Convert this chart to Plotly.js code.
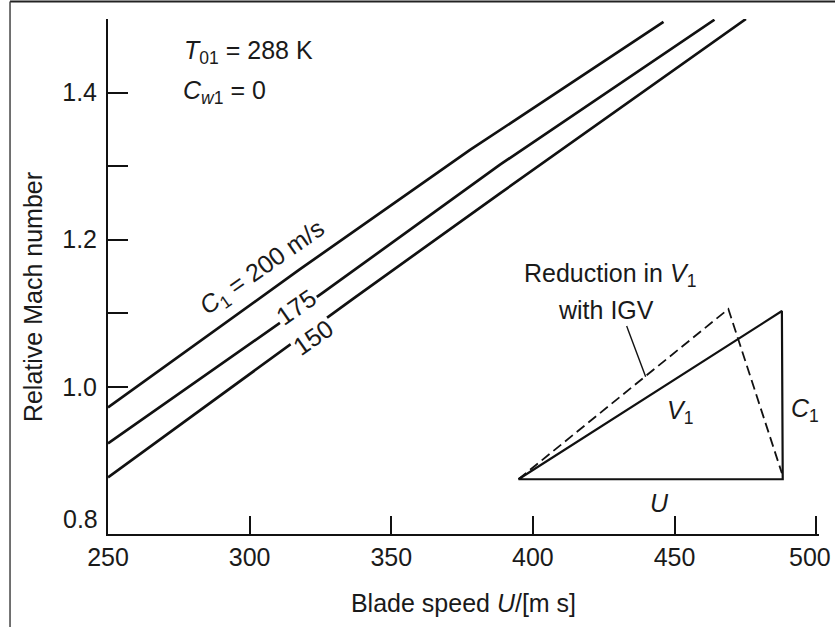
<!DOCTYPE html>
<html>
<head>
<meta charset="utf-8">
<script src="https://cdn.plot.ly/plotly-3.0.1.min.js"></script>
<style>html,body{margin:0;padding:0;background:#fff;}#chart{width:835px;height:627px;}</style>
</head>
<body>
<div id="chart"></div>
<script>
// Relative Mach number vs blade speed, three inlet velocities C1
const U200 = [250, 317.8, 377.8, 446.1];
const M200 = [0.972, 1.160, 1.322, 1.496];
const U175 = [250, 325.5, 388.4, 464.1];
const M175 = [0.923, 1.127, 1.302, 1.499];
const U150 = [250, 336.6, 388.4, 475.2];
const M150 = [0.877, 1.120, 1.263, 1.500];

// inset velocity triangle (drawn in the chart's data space)
const triU = [394.9, 488.2, 487.9, 394.9];
const triM = [0.8744, 0.8744, 1.1031, 0.8744];
const igvU = [394.9, 469.0, 487.9];
const igvM = [0.8744, 1.1058, 0.8825];
const ptrU = [433.1, 439.8];
const ptrM = [1.0827, 1.0138];

const xTicks = [250, 300, 350, 400, 450, 500];
const xTickText = ['250', '300', '350', '400', '450', ''];
const yTicks = [1.0, 1.1, 1.2, 1.3, 1.4];
const yTickText = ['1.0', '', '1.2', '', '1.4'];

const FONT = '"Liberation Sans", Arial, sans-serif';
const INK = '#111';
const TXT = '#1a1a1a';

const lineStyle = {color: INK, width: 2.7};
const traces = [
  {x: U200, y: M200, mode: 'lines', line: lineStyle, name: 'C1 = 200 m/s'},
  {x: U175, y: M175, mode: 'lines', line: lineStyle, name: '175'},
  {x: U150, y: M150, mode: 'lines', line: lineStyle, name: '150'},
  {x: triU, y: triM, mode: 'lines', line: {color: INK, width: 2.2}, name: 'triangle'},
  {x: igvU, y: igvM, mode: 'lines', line: {color: INK, width: 1.8, dash: '10px,5px'}, name: 'IGV'},
  {x: ptrU, y: ptrM, mode: 'lines', line: {color: INK, width: 1.4}, name: 'pointer'}
];

const fs = 25;
const ann = (text, x, y, extra) => Object.assign({
  text: text, x: x, y: y, xref: 'x', yref: 'y', showarrow: false,
  font: {family: FONT, size: fs, color: TXT}
}, extra || {});

const layout = {
  width: 835, height: 627,
  margin: {l: 108, r: 16, t: 19, b: 93, pad: 0},
  paper_bgcolor: '#fff', plot_bgcolor: '#fff',
  showlegend: false,
  font: {family: FONT, size: fs, color: TXT},
  xaxis: {
    range: [250, 501], tickvals: xTicks, ticktext: xTickText, ticks: 'inside', ticklen: 18, tickwidth: 2,
    tickcolor: INK, showline: true, linecolor: INK, linewidth: 2, showgrid: false,
    zeroline: false, ticklabelstandoff: 0,
    tickfont: {family: FONT, size: fs, color: TXT},
    title: {text: 'Blade speed <i>U</i>/[m s]', standoff: 24, font: {family: FONT, size: fs, color: TXT}}
  },
  yaxis: {
    range: [0.8, 1.5], tickvals: yTicks, ticktext: yTickText, ticks: 'inside', ticklen: 20,
    tickwidth: 2, tickcolor: INK, showline: true, linecolor: INK, linewidth: 2,
    showgrid: false, zeroline: false, ticklabelstandoff: 4,
    tickfont: {family: FONT, size: fs, color: TXT}
  },
  annotations: [
    ann('<i>C</i><sub>1</sub> = 200 m/s', 304.7, 1.1616, {textangle: -35}),
    ann('175', 316.3, 1.109, {textangle: -35, bgcolor: '#fff', borderpad: 1}),
    ann('150', 322.5, 1.068, {textangle: -35, bgcolor: '#fff', borderpad: 1}),
    ann('<i>T</i><sub>01</sub> = 288 K', 276.0, 1.4556, {xanchor: 'left'}),
    ann('<i>C</i><sub><i>w</i>1</sub> = 0', 275.8, 1.4012, {xanchor: 'left'}),
    ann('Reduction in <i>V</i><sub>1</sub>', 427.1, 1.152),
    ann('with IGV', 425.9, 1.1045),
    ann('<i>V</i><sub>1</sub>', 451.98, 0.966),
    ann('<i>C</i><sub>1</sub>', 496.1, 0.9686),
    ann('<i>U</i>', 444.6, 0.842),
    {text: '0.8', xref: 'paper', yref: 'y', x: -0.01125, y: 0.821, xanchor: 'right',
     showarrow: false, font: {family: FONT, size: fs, color: TXT}},
    {text: '500', xref: 'paper', yref: 'paper', x: 1.0197, y: -0.0447, xanchor: 'right', yanchor: 'middle',
     showarrow: false, font: {family: FONT, size: fs, color: TXT}},
    {text: 'Relative Mach number', xref: 'paper', yref: 'paper', x: -0.1055, y: 0.46,
     xanchor: 'center', yanchor: 'middle',
     textangle: -90, showarrow: false, font: {family: FONT, size: fs, color: TXT}}
  ],
  shapes: [
    {type: 'line', xref: 'paper', yref: 'paper', x0: -0.1378, x1: 1.03, y0: 1.034, y1: 1.034,
     line: {color: '#222', width: 2}},
    {type: 'line', xref: 'paper', yref: 'paper', x0: -0.1378, x1: -0.1378, y0: -0.19, y1: 1.034,
     line: {color: '#444', width: 1.5}}
  ]
};

Plotly.newPlot('chart', traces, layout, {displayModeBar: false, staticPlot: true});
</script>
</body>
</html>
